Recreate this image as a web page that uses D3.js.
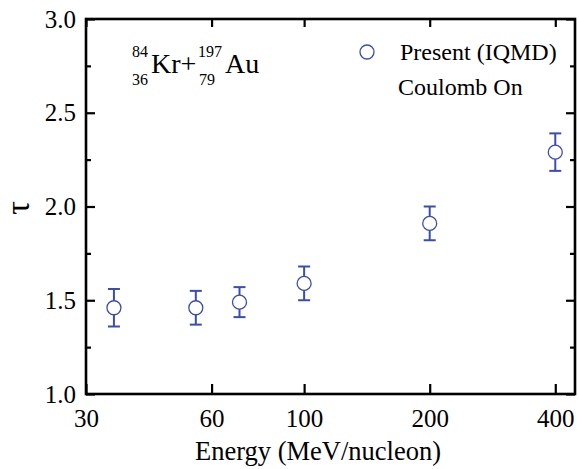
<!DOCTYPE html>
<html>
<head>
<meta charset="utf-8">
<script src="https://cdn.jsdelivr.net/npm/d3@7"></script>
<style>
  html, body { margin: 0; padding: 0; background: #fff; }
  svg { display: block; }
  text { font-family: "Liberation Serif", "Times New Roman", serif; fill: #000; }
</style>
</head>
<body>
<svg id="chart" width="579" height="469"></svg>
<script>
const energies = [35, 55, 70, 100, 200, 400];
const tau = [1.46, 1.46, 1.49, 1.59, 1.91, 2.29];
const tauErr = [0.10, 0.09, 0.08, 0.09, 0.09, 0.10];
const xTicks = [30, 60, 100, 200, 400];
const yTicks = [1.0, 1.5, 2.0, 2.5, 3.0];
const yMinorTicks = [1.25, 1.75, 2.25, 2.75];

const W = 579, H = 469;
const L = 86, R = 575, T = 19, B = 394;
const color = "#3a4db0";

const svg = d3.select("#chart");
const x = d3.scaleLog().domain([30, 446]).range([L, R]);
const y = d3.scaleLinear().domain([1, 3]).range([B, T]);

function styleAxis(g, fs) {
  g.select(".domain").remove();
  g.selectAll(".tick line").attr("stroke", "#000").attr("stroke-width", 2.2);
  g.selectAll(".tick text").style("font-size", fs + "px")
    .style("font-family", '"Liberation Serif", "Times New Roman", serif').attr("fill", "#000");
}

// bottom axis
svg.append("g").attr("transform", `translate(0,${B})`)
  .call(d3.axisBottom(x).tickValues(xTicks).tickFormat(d3.format("d")).tickSize(-10).tickPadding(15))
  .call(g => styleAxis(g, 25));
// top axis
svg.append("g").attr("transform", `translate(0,${T})`)
  .call(d3.axisTop(x).tickValues(xTicks).tickFormat("").tickSize(-8))
  .call(g => styleAxis(g, 25));
// left axis
svg.append("g").attr("transform", `translate(${L},0)`)
  .call(d3.axisLeft(y).tickValues(yTicks).tickFormat(d3.format(".1f")).tickSize(-9).tickPadding(10))
  .call(g => styleAxis(g, 25));
svg.append("g").attr("transform", `translate(${L},0)`)
  .call(d3.axisLeft(y).tickValues(yMinorTicks).tickFormat("").tickSize(-5))
  .call(g => styleAxis(g, 25));
// right axis
svg.append("g").attr("transform", `translate(${R},0)`)
  .call(d3.axisRight(y).tickValues(yTicks).tickFormat("").tickSize(-9))
  .call(g => styleAxis(g, 25));
svg.append("g").attr("transform", `translate(${R},0)`)
  .call(d3.axisRight(y).tickValues(yMinorTicks).tickFormat("").tickSize(-5))
  .call(g => styleAxis(g, 25));

// frame
svg.append("rect").attr("x", L).attr("y", T).attr("width", R - L).attr("height", B - T)
  .attr("fill", "none").attr("stroke", "#000").attr("stroke-width", 2.6);

// axis labels
svg.append("text").attr("x", 318).attr("y", 460).attr("text-anchor", "middle")
  .style("font-size", "26.5px").text("Energy (MeV/nucleon)");
svg.append("text").attr("transform", "translate(29,208) rotate(-90)").attr("text-anchor", "middle")
  .style("font-size", "34px").text("τ");

// data
const pts = energies.map((e, i) => ({ e, t: tau[i], err: tauErr[i] }));
const g = svg.append("g");
g.selectAll("line.err").data(pts).join("line").attr("class", "err")
  .attr("x1", d => x(d.e)).attr("x2", d => x(d.e))
  .attr("y1", d => y(d.t - d.err)).attr("y2", d => y(d.t + d.err))
  .attr("stroke", color).attr("stroke-width", 2);
[["lo", -1], ["hi", 1]].forEach(([k, s]) => {
  g.selectAll("line.cap" + k).data(pts).join("line").attr("class", "cap" + k)
    .attr("x1", d => x(d.e) - 6).attr("x2", d => x(d.e) + 6)
    .attr("y1", d => y(d.t + s * d.err)).attr("y2", d => y(d.t + s * d.err))
    .attr("stroke", color).attr("stroke-width", 2);
});
g.selectAll("circle").data(pts).join("circle")
  .attr("cx", d => x(d.e)).attr("cy", d => y(d.t)).attr("r", 7)
  .attr("fill", "#fff").attr("stroke", color).attr("stroke-width", 1.3);

// legend
svg.append("circle").attr("cx", 367).attr("cy", 52).attr("r", 7)
  .attr("fill", "#fff").attr("stroke", color).attr("stroke-width", 1.3);
svg.append("text").attr("x", 400).attr("y", 60).style("font-size", "24px").text("Present (IQMD)");
svg.append("text").attr("x", 398).attr("y", 95).style("font-size", "24px").text("Coulomb On");

// reaction annotation
const ann = svg.append("g");
ann.append("text").attr("x", 132).attr("y", 57).style("font-size", "16px").text("84");
ann.append("text").attr("x", 132).attr("y", 85).style("font-size", "16px").text("36");
ann.append("text").attr("x", 151).attr("y", 73).style("font-size", "28px").text("Kr+");
ann.append("text").attr("x", 198).attr("y", 57).style("font-size", "16px").text("197");
ann.append("text").attr("x", 199).attr("y", 85).style("font-size", "16px").text("79");
ann.append("text").attr("x", 225).attr("y", 73).style("font-size", "28px").text("Au");
</script>
</body>
</html>
